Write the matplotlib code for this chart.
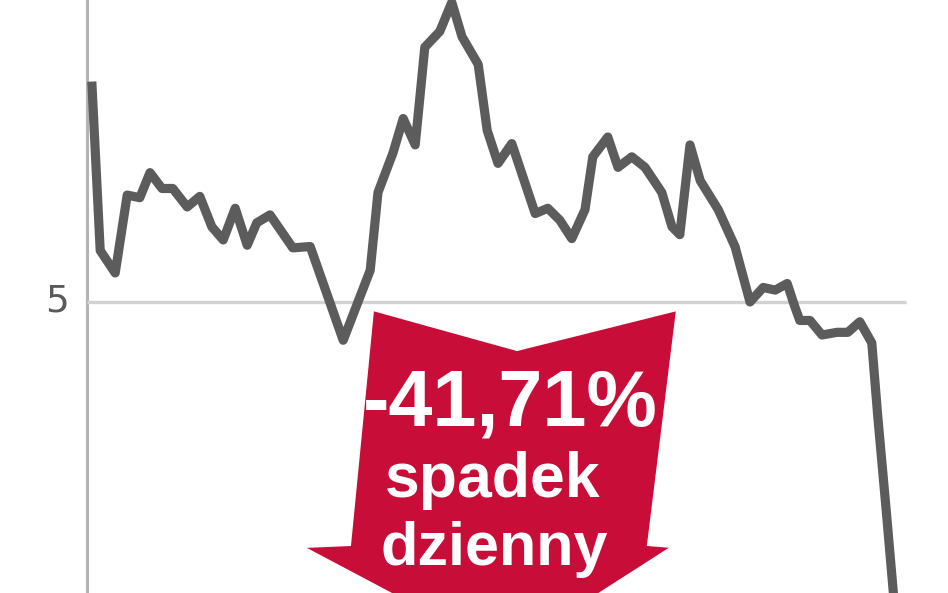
import matplotlib.pyplot as plt
from matplotlib.patches import Polygon

# sessions (trading days) and closing price, zl
sessions = [0.8, 2.2, 4.7, 6.7, 8.8, 10.5, 12.5, 14.3, 16.7, 18.8,
            20.8, 22.7, 24.7, 26.7, 28.3, 30.5, 34.3, 37.2, 42.7, 47.2,
            48.5, 51.0, 52.7, 54.7, 56.3, 58.8, 60.8, 62.5, 65.2, 66.7,
            68.5, 70.8, 74.7, 76.8, 78.8, 80.8, 83.0, 84.3, 86.8, 88.5,
            90.8, 93.0, 95.8, 97.5, 98.8, 100.5, 102.2, 105.2, 108.0, 110.5,
            112.7, 114.7, 116.7, 118.0, 118.8, 120.5, 122.5, 125.0, 126.8, 128.8,
            130.8, 131.8, 133.3, 134.5]
price = [6.67, 5.39, 5.22, 5.81, 5.79, 5.98, 5.86, 5.86, 5.72, 5.80,
         5.57, 5.47, 5.71, 5.43, 5.60, 5.66, 5.41, 5.42, 4.71, 5.24,
         5.83, 6.13, 6.39, 6.19, 6.93, 7.05, 7.27, 7.01, 6.80, 6.30,
         6.05, 6.20, 5.67, 5.71, 5.62, 5.48, 5.70, 6.10, 6.25, 6.02,
         6.10, 6.02, 5.83, 5.57, 5.51, 6.19, 5.92, 5.70, 5.42, 5.00,
         5.11, 5.09, 5.14, 4.96, 4.86, 4.86, 4.75, 4.77, 4.77, 4.85,
         4.69, 4.13, 3.37, 2.74]

yticks = [5]
ytick_labels = ["5"]
badge_lines = ["-41,71%", "spadek", "dzienny"]

W, H = 948, 593
fig = plt.figure(figsize=(W / 100, H / 100), dpi=100)
ax = fig.add_axes([0, 0, 1, 1])
ax.set_xlim(-14.5, 143.5)
ax.set_ylim(2.795, 7.288)
ax.axis("off")

# left axis line and the single gridline
ax.axvline(0, color="#b4b4b4", lw=2.2, zorder=1)
for t, lab in zip(yticks, ytick_labels):
    ax.hlines(t, 0, 136.5, color="#d2d2d2", lw=2.4, zorder=1)
    ax.text(-3, t, lab, ha="right", va="center", fontsize=27,
            color="#5a5a5a", family="DejaVu Sans")

ax.plot(sessions, price, color="#5c5c5c", lw=6.6,
        solid_joinstyle="round", solid_capstyle="butt", zorder=3)

# red "down" arrow badge, placed in pixel terms
px = lambda x, y: (x / W, 1 - y / H)
arrow_pts = [px(373, 310), px(517, 350), px(677, 310), px(648, 545),
             px(672, 547), px(505, 654), px(303, 547), px(350, 545)]
ax.add_patch(Polygon(arrow_pts, closed=True, transform=ax.transAxes,
                     facecolor="#c80e38", edgecolor="white", lw=1.5,
                     zorder=4, clip_on=False))

fonts = ["Liberation Sans", "DejaVu Sans"]
ax.text(*px(510, 425), badge_lines[0], transform=ax.transAxes, ha="center",
        va="baseline", fontsize=57, weight="bold", color="white",
        family=fonts, zorder=5)
ax.text(*px(493, 497), badge_lines[1], transform=ax.transAxes, ha="center",
        va="baseline", fontsize=45, weight="bold", color="white",
        family=fonts, zorder=5)
ax.text(*px(494, 565), badge_lines[2], transform=ax.transAxes, ha="center",
        va="baseline", fontsize=44, weight="bold", color="white",
        family=fonts, zorder=5)

fig.savefig("out.png", dpi=100)
